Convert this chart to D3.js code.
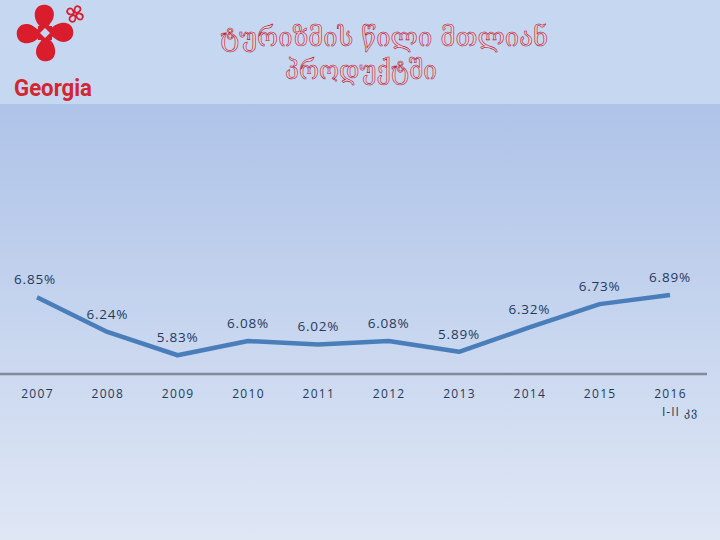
<!DOCTYPE html>
<html>
<head>
<meta charset="utf-8">
<script src="https://cdn.jsdelivr.net/npm/d3@7"></script>
<style>
  body { margin: 0; }
  svg { display: block; }
</style>
</head>
<body>
<script>
// data
var years = ['2007', '2008', '2009', '2010', '2011', '2012', '2013', '2014', '2015', '2016'];
var shares = [6.85, 6.24, 5.83, 6.08, 6.02, 6.08, 5.89, 6.32, 6.73, 6.89];
var titleLines = ['ტურიზმის წილი მთლიან', 'პროდუქტში'];
var lastNote = 'I-II კვ';

var width = 720, height = 540;

var svg = d3.select('body').append('svg')
  .attr('width', width)
  .attr('height', height);

var defs = svg.append('defs');
var grad = defs.append('linearGradient')
  .attr('id', 'bg')
  .attr('x1', 0).attr('y1', 0).attr('x2', 0).attr('y2', 1);
grad.append('stop').attr('offset', '0%').attr('stop-color', '#aec3e8');
grad.append('stop').attr('offset', '100%').attr('stop-color', '#dfe7f5');

// header band + body
svg.append('rect')
  .attr('width', width).attr('height', 104)
  .attr('fill', '#c6d8f1');
svg.append('rect')
  .attr('y', 104)
  .attr('width', width).attr('height', height - 104)
  .attr('fill', 'url(#bg)');

//logo
var logo = svg.append('g').attr('transform', 'translate(45,33)');
var lobe = 'M-4,-6 C-12,-12 -13,-26 -3,-28 C7,-30 12,-20 7,-12 C5,-9 3,-7 3,-5 Z';
[0, 90, 180, 270].forEach(function (a) {
  logo.append('path')
    .attr('d', lobe)
    .attr('transform', 'rotate(' + a + ')')
    .attr('fill', '#d91d2c');
});
logo.append('rect')
  .attr('x', -7).attr('y', -7).attr('width', 14).attr('height', 14)
  .attr('fill', '#d91d2c');
logo.append('path')
  .attr('d', 'M0,-5 L5,0 L0,5 L-5,0 Z')
  .attr('fill', '#c6d8f1');
var small = svg.append('g').attr('transform', 'translate(75,14) scale(0.3)');
[0, 90, 180, 270].forEach(function (a) {
  small.append('path')
    .attr('d', lobe)
    .attr('transform', 'rotate(' + (a + 30) + ')')
    .attr('fill', 'none')
    .attr('stroke', '#d91d2c')
    .attr('stroke-width', 6);
});
svg.append('text')
  .attr('x', 53).attr('y', 96)
  .attr('text-anchor', 'middle')
  .style('font-family', 'Roboto, "Noto Sans", sans-serif')
  .style('font-weight', 'bold')
  .style('font-size', '24px')
  .attr('textLength', 78)
  .attr('lengthAdjust', 'spacingAndGlyphs')
  .attr('fill', '#d42630')
  .text('Georgia');

//title
svg.selectAll('.title')
  .data(titleLines)
  .enter().append('text')
  .attr('class', 'title')
  .attr('x', (d, i) => i === 0 ? 384 : 361)
  .attr('y', (d, i) => i === 0 ? 46 : 79)
  .attr('text-anchor', 'middle')
  .style('font-family', '"DejaVu Serif", "DejaVu Sans", serif')
  .style('font-size', '26px')
  .attr('textLength', (d, i) => i === 0 ? 328 : 152)
  .attr('lengthAdjust', 'spacingAndGlyphs')
  .attr('fill', '#e3cfe0')
  .attr('stroke', '#b8102a')
  .attr('stroke-width', 0.6)
  .text(d => d);

// scales
var x = d3.scalePoint()
  .domain(years)
  .range([37, 670]);

var y = d3.scaleLinear()
  .domain([5.5, 8])
  .range([374, 232]);

// x axis: flat grey line, no ticks
var xAxis = d3.axisBottom(x)
  .tickSize(0)
  .tickPadding(15)
  .tickSizeOuter(0);

var gx = svg.append('g')
  .attr('transform', 'translate(0,' + y(5.5) + ')')
  .call(xAxis);
gx.select('.domain')
  .attr('d', 'M0,0H707')
  .attr('stroke', '#808a98')
  .attr('stroke-width', 2.5);
gx.selectAll('text')
  .style('font-family', '"Open Sans", "Noto Sans", sans-serif')
  .style('font-size', '12px')
  .style('letter-spacing', '1.3px')
  .attr('fill', '#253a5c');

gx.append('text')
  .attr('x', x('2016') + 10)
  .attr('y', 42)
  .attr('text-anchor', 'middle')
  .style('font-family', '"Open Sans", "Noto Sans", sans-serif')
  .style('font-size', '12px')
  .style('letter-spacing', '1px')
  .attr('fill', '#253a5c')
  .text(lastNote);

// line
var line = d3.line()
  .x((d, i) => x(years[i]))
  .y(d => y(d));

svg.append('path')
  .datum(shares)
  .attr('d', line)
  .attr('fill', 'none')
  .attr('stroke', '#4a7ebb')
  .attr('stroke-width', 4.5)
  .attr('stroke-linejoin', 'round');

// labels
svg.append('g')
  .selectAll('text')
  .data(shares)
  .enter().append('text')
  .attr('x', (d, i) => x(years[i]) - (i === 0 ? 2 : 0))
  .attr('y', d => y(d) - 13)
  .attr('text-anchor', 'middle')
  .style('font-family', '"Open Sans", "Noto Sans", sans-serif')
  .style('font-size', '13.5px')
  .style('letter-spacing', '0.8px')
  .attr('fill', '#1f3a60')
  .text(d => d.toFixed(2) + '%');
</script>
</body>
</html>
